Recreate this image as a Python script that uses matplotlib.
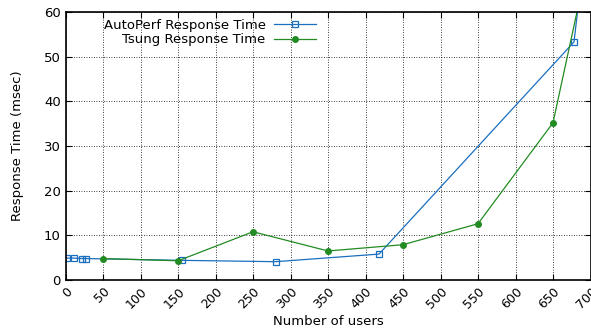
import matplotlib.pyplot as plt

# AutoPerf data
autoperf_users = [2, 11, 22, 27, 155, 280, 418, 678, 700]
autoperf_rt = [4.9, 4.9, 4.8, 4.8, 4.4, 4.1, 5.8, 53.3, 85]

# Tsung data
tsung_users = [50, 150, 250, 350, 450, 550, 650, 700]
tsung_rt = [4.8, 4.3, 10.8, 6.5, 7.9, 12.6, 35.2, 74]

xticks = list(range(0, 701, 50))
yticks = list(range(0, 61, 10))

plt.rcParams['font.family'] = ['DejaVu Sans']

fig = plt.figure(figsize=(5.91, 3.32), dpi=100)
ax = fig.add_axes([65.5 / 591, 52 / 332, 525 / 591, 268 / 332])

ax.plot(autoperf_users, autoperf_rt, '-', color='#1a6fbf', lw=0.9,
        marker='s', ms=4, mfc='none', mec='#1a6fbf', mew=0.9,
        label='AutoPerf Response Time')
ax.plot(tsung_users, tsung_rt, '-', color='#228b22', lw=0.9,
        marker='o', ms=4, mfc='#228b22', mec='#228b22',
        label='Tsung Response Time')

ax.set_xlim(0, 700)
ax.set_ylim(0, 60)
ax.set_xticks(xticks)
ax.set_yticks(yticks)
ax.set_xticklabels([str(t) for t in xticks], rotation=45, ha='right',
                   rotation_mode='anchor', fontsize=9)
ax.set_yticklabels([str(t) for t in yticks], fontsize=9.5)
ax.tick_params(direction='in', top=True, right=True, length=4, width=0.8)

ax.grid(True, color='black', linestyle=(0, (1, 2)), lw=0.6)
for s in ax.spines.values():
    s.set_linewidth(1.2)

ax.set_xlabel('Number of users', fontsize=9.5, labelpad=3)
ax.set_ylabel('Response Time (msec)', fontsize=9.5, labelpad=14)

leg = ax.legend(loc='upper left', bbox_to_anchor=(0.05, 1.02), markerfirst=False,
                frameon=False, fontsize=9.5, handlelength=3.2,
                handletextpad=0.6, labelspacing=0.15)
for t in leg.get_texts():
    t.set_ha('right')

fig.savefig('out.png', dpi=100)
